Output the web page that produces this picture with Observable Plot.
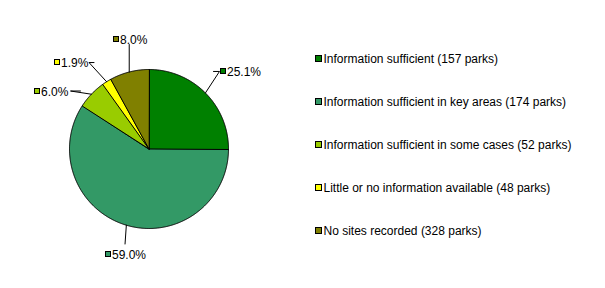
<!DOCTYPE html>
<html>
<head>
<meta charset="utf-8">
<script src="https://cdn.jsdelivr.net/npm/d3@7"></script>
<script src="https://cdn.jsdelivr.net/npm/@observablehq/plot@0.6"></script>
<style>
  html, body { margin: 0; padding: 0; background: #fff; }
  #chart { width: 605px; height: 288px; }
</style>
</head>
<body>
<div id="chart"></div>
<script>
// ---- data ----
const categories = [
  "Information sufficient (157 parks)",
  "Information sufficient in key areas (174 parks)",
  "Information sufficient in some cases (52 parks)",
  "Little or no information available (48 parks)",
  "No sites recorded (328 parks)"
];
const shares = [25.1, 59.0, 6.0, 1.9, 8.0];
const percentLabels = ["25.1%", "59.0%", "6.0%", "1.9%", "8.0%"];
const colors = ["#008000", "#339966", "#99CC00", "#FFFF00", "#808000"];

// ---- layout (pixel frame) ----
const W = 605, H = 288;
const CX = 148.5, CY = 148.5, R = 79.5;
const FS = 12;
// label box offset and leader path, relative to the slice's edge point
const labelLayout = [
  { box: [15.1, -21.5], path: [[8.1, -21.5], [14.1, -21.5]] },
  { box: [-20.8, 28.8], path: [[-1.3, 18.8]] },
  { box: [-56.4, -3.2], path: [[-10.9, -3.2], [-20.9, -3.2]] },
  { box: [-52.6, -19.4], path: [[-12.6, -19.2], [-17.6, -19.2]] },
  { box: [-16.2, -32], path: [[0, -27.5]] }
];
const legendX = 315, legendY0 = 58.5, legendStep = 43, boxSize = 5;

const arcs = d3.pie().sort(null).value(d => d)(shares);
const pt = a => [CX + R * Math.sin(a), CY - R * Math.cos(a)];

const marks = [];
arcs.forEach((arc, i) => {
  const pts = [[CX, CY]];
  const n = Math.max(2, Math.ceil((arc.endAngle - arc.startAngle) / (Math.PI / 360)));
  for (let k = 0; k <= n; k++) {
    pts.push(pt(arc.startAngle + (arc.endAngle - arc.startAngle) * k / n));
  }
  marks.push(Plot.line(pts, {
    x: d => d[0], y: d => d[1], fill: colors[i], stroke: "black",
    strokeWidth: 1, curve: "linear-closed"
  }));
});

arcs.forEach((arc, i) => {
  const mid = (arc.startAngle + arc.endAngle) / 2;
  const e = pt(mid);
  const L = labelLayout[i];
  const path = [e, ...L.path.slice().reverse().map(([dx, dy]) => [e[0] + dx, e[1] + dy])];
  marks.push(Plot.line(path, { x: d => d[0], y: d => d[1], stroke: "black", strokeWidth: 1 }));
  const bx = Math.round(e[0] + L.box[0]) + 0.5;
  const by = Math.round(e[1] + L.box[1]);
  marks.push(Plot.rect([0], {
    x1: () => bx, x2: () => bx + boxSize, y1: () => by - 2.5, y2: () => by + 2.5,
    fill: colors[i], stroke: "black", strokeWidth: 1
  }));
  marks.push(Plot.text([percentLabels[i]], {
    x: () => bx + boxSize + 1, y: () => by + 0.5, text: d => d,
    textAnchor: "start", lineAnchor: "middle", fontSize: FS, fill: "black"
  }));
});

const legendRows = categories.map((c, i) => ({ c, i, y: legendY0 + i * legendStep }));
marks.push(Plot.rect(legendRows, {
  x1: () => legendX + 0.5, x2: () => legendX + 0.5 + boxSize + 1,
  y1: d => d.y - 3, y2: d => d.y + 3,
  fill: d => colors[d.i], stroke: "black", strokeWidth: 1
}));
marks.push(Plot.text(legendRows, {
  x: () => legendX + 8, y: d => d.y + 0.5, text: d => d.c,
  textAnchor: "start", lineAnchor: "middle", fontSize: FS, fill: "black"
}));

const chart = Plot.plot({
  width: W, height: H, margin: 0,
  x: { type: "linear", domain: [0, W], range: [0, W], axis: null },
  y: { type: "linear", domain: [0, H], range: [0, H], axis: null },
  color: { type: "identity" },
  style: { fontFamily: "'Liberation Sans', Arial, sans-serif", fontSize: FS + "px", background: "white" },
  marks
});
document.getElementById("chart").appendChild(chart);
</script>
</body>
</html>
